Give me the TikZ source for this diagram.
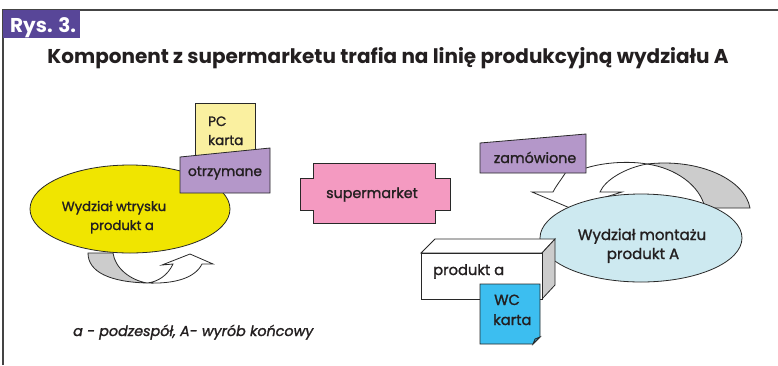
\documentclass[tikz,border=0pt]{standalone}
\usepackage{fontspec}
\setmainfont{Poppins}
\newfontfamily\medf{Poppins}[FakeBold=1.4]
\usetikzlibrary{shapes.geometric}
\definecolor{frameC}{RGB}{68,68,68}
\definecolor{rysC}{RGB}{88,70,152}
\definecolor{lineC}{RGB}{40,40,40}
\definecolor{textC}{RGB}{35,31,32}
\definecolor{yellowC}{RGB}{240,229,0}
\definecolor{pcC}{RGB}{250,240,160}
\definecolor{purpC}{RGB}{180,151,201}
\definecolor{pinkC}{RGB}{244,154,193}
\definecolor{blueLC}{RGB}{205,233,240}
\definecolor{wcC}{RGB}{60,190,240}
\definecolor{grayC}{RGB}{204,204,204}
\begin{document}
\begin{tikzpicture}[x=1pt,y=-1pt,
  outl/.style={draw=lineC, line width=0.8pt, line join=miter},
  txt/.style={text=textC, inner sep=0pt},
  fs/.style={font=\medf\fontsize{#1}{#1}\selectfont}]
\useasboundingbox (0,0) rectangle (778,365);
\fill[white] (0,0) rectangle (778,365);
% frame
\draw[frameC, line width=1.5pt] (3,365) -- (3,10) -- (779,10);
\fill[rysC] (3,10) rectangle (80,38);
\node[anchor=base west, inner sep=0pt, text=white, font=\fontsize{20}{22}\bfseries] (rys) at (10,32) {Rys. 3.};
% title
\node[anchor=base, inner sep=0pt, text=textC, font=\fontsize{20}{22}\bfseries] (title) at (388,63) {Komponent z supermarketu trafia na linię produkcyjną wydziału A};
% left U-arrow
\draw[outl, fill=grayC] (88,253) -- (113,253) .. controls (115,268) and (130,280) .. (147,283) .. controls (110,282) and (88,272) .. (88,253) -- cycle;
\draw[outl, fill=white] (147,283) .. controls (175,284) and (195,278) .. (202,264) -- (213,264) -- (190,254) -- (162,265) -- (173,264) .. controls (168,275) and (158,282) .. (147,283) -- cycle;
% yellow ellipse
\node[ellipse, outl, fill=yellowC, minimum width=200pt, minimum height=88pt, inner sep=0pt] (wtr) at (130,209) {};
\node[txt, fs=13.2, anchor=base] (wtr1) at (114,211) {Wydział wtrysku};
\node[txt, fs=13.2, anchor=base] (wtr2) at (122,230) {produkt a};
% PC card
\draw[outl, fill=pcC] (195,175) -- (195,103) -- (255,103) -- (255,175);
\node[txt, fs=13.5, anchor=base west] (pc1) at (208,126) {PC};
\node[txt, fs=13.5, anchor=base west] (pc2) at (208,145) {karta};
% otrzymane
\draw[outl, fill=purpC] (180,157) -- (270,148) -- (270,193) -- (180,193) -- cycle;
\node[txt, fs=13.8, anchor=base] (otrz) at (225,176) {otrzymane};
% supermarket
\draw[outl, fill=pinkC] (313,163) -- (435,163) -- (435,178) -- (450,178) -- (450,210) -- (435,210) -- (435,223) -- (313,223) -- (313,210) -- (300,210) -- (300,178) -- (313,178) -- cycle;
\node[txt, fs=14.3, anchor=base] (sup) at (372,198) {supermarket};
% right ribbon arrow
\draw[outl, fill=grayC] (647,164) .. controls (700,158) and (745,180) .. (750,208) -- (705,208) .. controls (700,185) and (675,168) .. (647,164) -- cycle;
\draw[outl, fill=white] (570,165) -- (586,168) .. controls (605,162) and (630,161) .. (647,164) .. controls (625,168) and (605,180) .. (600,192) -- (622,192) -- (570,208) -- (532,192) -- (553,192) .. controls (557,184) and (563,178) .. (570,165) -- cycle;
% zamowione
\draw[outl, fill=purpC] (480,143) -- (586,134) -- (586,173) -- (480,173) -- cycle;
\node[txt, fs=14.3, anchor=base] (zam) at (535,163) {zamówione};
% blue ellipse
\node[ellipse, outl, fill=blueLC, minimum width=202pt, minimum height=88pt, inner sep=0pt] (mont) at (641,238) {};
\node[txt, fs=15, anchor=base] (mont1) at (642,240) {Wydział montażu};
\node[txt, fs=15, anchor=base] (mont2) at (643,259) {produkt A};
% produkt a box
\draw[outl, fill=white] (421,253) -- (435,239) -- (555,239) -- (542,253) -- cycle;
\draw[outl, fill=grayC] (542,253) -- (555,239) -- (555,285) -- (542,299) -- cycle;
\draw[outl, fill=white] (421,253) rectangle (542,299);
\node[txt, fs=14.7, anchor=base west] (prod) at (433,275) {produkt a};
% WC card
\draw[outl, fill=wcC] (480,284) -- (540,284) -- (540,337) -- (533,344) -- (480,344) -- cycle;
\draw[outl, fill=wcC!80!black] (540,337) -- (533,344) -- (535,339) -- cycle;
\node[txt, fs=14.7, anchor=base west] (wc1) at (494,305) {WC};
\node[txt, fs=14.7, anchor=base west] (wc2) at (493,325) {karta};
% footnote
\node[txt, anchor=base west, font=\medf\fontsize{14.3}{16}\selectfont\itshape] (foot) at (73,336) {a - podzespół, A- wyrób końcowy};
\end{tikzpicture}
\end{document}
